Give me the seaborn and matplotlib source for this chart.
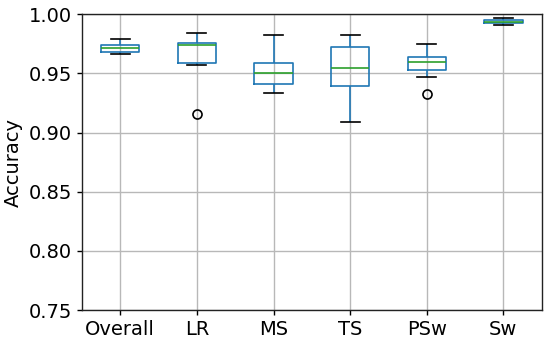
import pandas as pd
import matplotlib
matplotlib.use("Agg")
import matplotlib.pyplot as plt
import seaborn as sns

# ----------------------------------------------------------
# Data: accuracy values per feature group
# ----------------------------------------------------------
groups = ["Overall", "LR", "MS", "TS", "PSw", "Sw"]

overall = [0.966, 0.967, 0.968, 0.970, 0.971, 0.972, 0.974, 0.977, 0.979]
lr = [0.9156, 0.957, 0.959, 0.968, 0.9736, 0.9745, 0.9756, 0.980, 0.984]
ms = [0.9336, 0.938, 0.9414, 0.946, 0.9506, 0.955, 0.959, 0.970, 0.982]
ts = [0.909, 0.930, 0.939, 0.947, 0.9544, 0.963, 0.9722, 0.978, 0.9825]
psw = [0.9328, 0.9467, 0.9528, 0.956, 0.9597, 0.962, 0.964, 0.970, 0.9744]
sw = [0.9908, 0.992, 0.9928, 0.9932, 0.9936, 0.9942, 0.995, 0.996, 0.9964]

values = [overall, lr, ms, ts, psw, sw]

ytick_values = [0.75, 0.80, 0.85, 0.90, 0.95, 1.00]


def build_frame():
    rows = []
    for name, vals in zip(groups, values):
        for v in vals:
            rows.append({"group": name, "accuracy": v})
    return pd.DataFrame(rows)


def main():
    df = build_frame()

    fig = plt.figure(figsize=(5.5, 3.45), dpi=100)
    ax = fig.add_axes([0.149, 0.101, 0.836, 0.858])

    sns.boxplot(
        data=df,
        x="group",
        y="accuracy",
        order=groups,
        width=0.5,
        fill=False,
        linewidth=1.2,
        whis=1.5,
        boxprops=dict(color="#1f77b4", linewidth=1.2),
        whiskerprops=dict(color="#1f77b4", linewidth=1.2),
        capprops=dict(color="black", linewidth=1.2),
        medianprops=dict(color="#2ca02c", linewidth=1.2),
        flierprops=dict(marker="o", markerfacecolor="none",
                        markeredgecolor="black", markersize=6.5,
                        markeredgewidth=1.2),
        ax=ax,
    )

    ax.set_ylim(0.75, 1.0)
    ax.set_xlim(-0.5, 5.5)
    ax.set_yticks(ytick_values)
    ax.set_yticklabels([f"{v:.2f}" for v in ytick_values])
    ax.set_xlabel("")
    ax.set_ylabel("Accuracy", fontsize=14)
    ax.tick_params(axis="both", labelsize=14, width=1.0)
    ax.grid(True, color="#b8b8b8", linewidth=1.0)
    ax.set_axisbelow(True)
    for spine in ax.spines.values():
        spine.set_color("#222222")
        spine.set_linewidth(1.0)

    fig.savefig("out.png", dpi=100)
    plt.close(fig)


if __name__ == "__main__":
    main()
